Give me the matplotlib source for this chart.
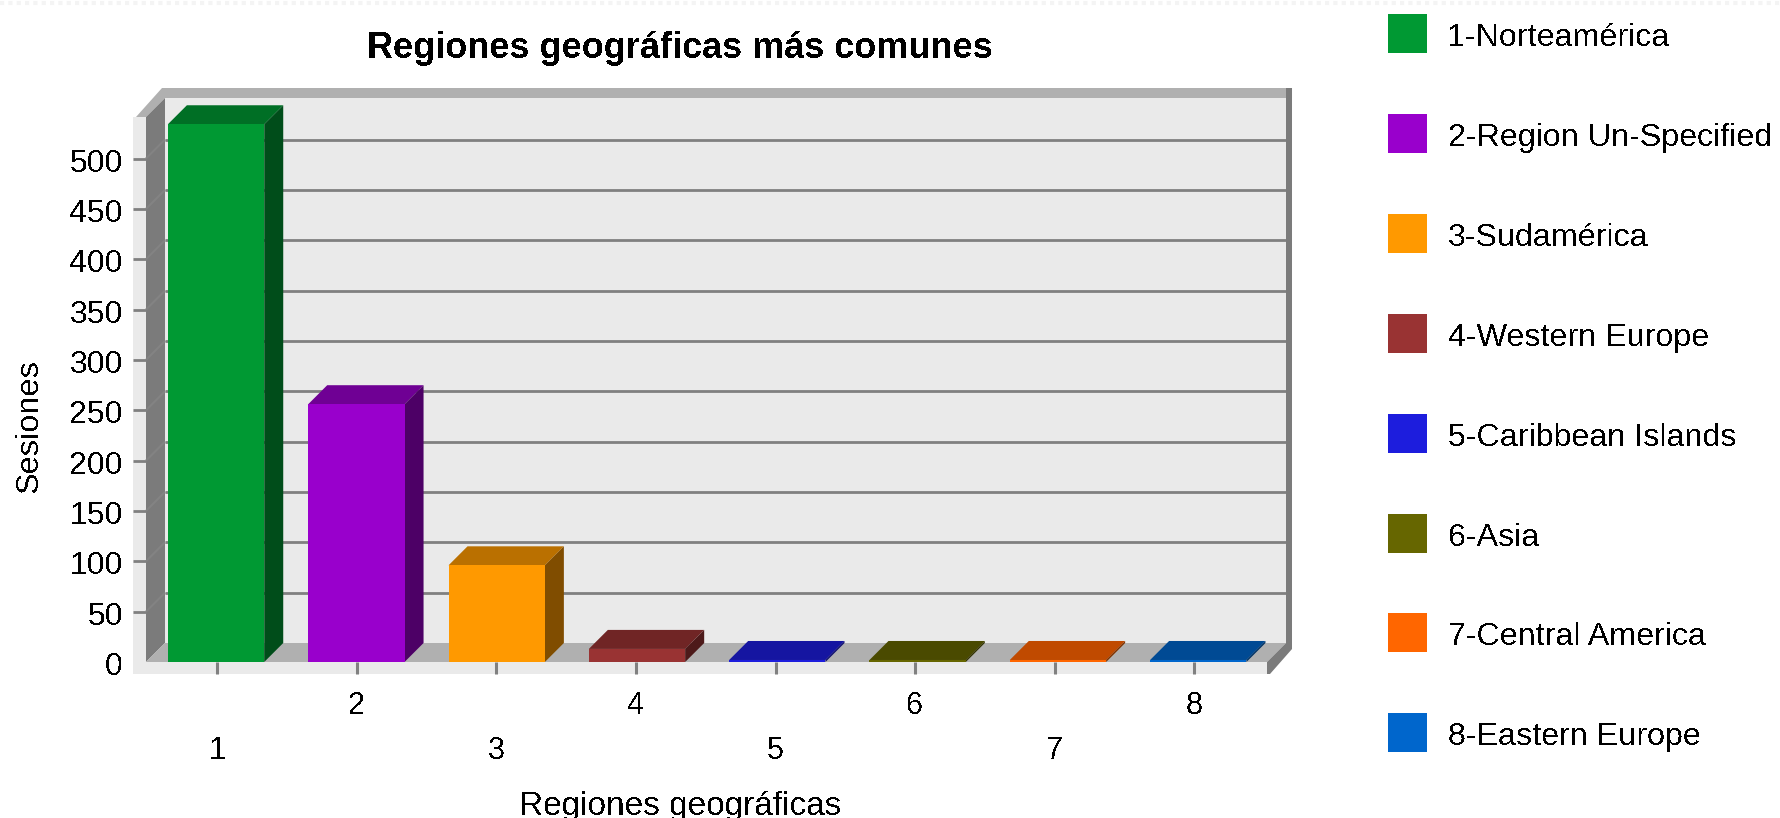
import matplotlib
matplotlib.use("Agg")
import matplotlib.pyplot as plt
from matplotlib.lines import Line2D
from matplotlib.patches import Polygon, Rectangle

# Dati
regioni = [1, 2, 3, 4, 5, 6, 7, 8]
sesiones = [534, 256, 96, 13, 2, 2, 2, 2]
nomi = ["1-Norteamérica", "2-Region Un-Specified", "3-Sudamérica", "4-Western Europe",
        "5-Caribbean Islands", "6-Asia", "7-Central America", "8-Eastern Europe"]
colori = ["#009933", "#9900CC", "#FF9900", "#993333", "#1D1DDD", "#666600", "#FF6600", "#0066CC"]
colori_top = ["#006F25", "#6F0094", "#BA7000", "#702525", "#1515A1", "#4A4A00", "#C04A00", "#004A94"]
colori_lato = ["#004D1A", "#4D0066", "#804D00", "#4D1A1A", "#0F0F70", "#333300", "#803300", "#003366"]
y_ticks = list(range(0, 501, 50))

W, H = 1780, 818
plt.rcParams["font.family"] = ["Liberation Sans", "DejaVu Sans"]
plt.rcParams["text.antialiased"] = False

fig = plt.figure(figsize=(W / 100, H / 100), dpi=100)
# assi: piano frontale del grafico (pixel 146-1267, 117-662)
ax = fig.add_axes([146 / W, 1 - 662 / H, (1267 - 146) / W, (662 - 117) / H])
px_x = 139.6   # pixel per regione
px_y = 1.007   # pixel per sessione
x_min, x_max = 0.491, 8.52
y_max = (662 - 117) / px_y
ax.set_xlim(x_min, x_max)
ax.set_ylim(0, y_max)
ax.patch.set_visible(False)
ax.set_axisbelow(False)
for s in ax.spines.values():
    s.set_visible(False)

# profondita' 3d in unita' dati
dx = 19 / px_x
dy = 19 / px_y
bordo_x = 6 / px_x
bordo_y = 10 / px_y
larg = 0.69


def poly(pts, col, z):
    ax.add_patch(Polygon(pts, closed=True, facecolor=col, edgecolor="none", zorder=z, clip_on=False))


GRIGIO_CHIARO = "#EAEAEA"
GRIGIO_PAV = "#B0B0B0"
GRIGIO_SCURO = "#7B7B7B"
GRIGLIA = "#808080"

y_top = y_max + dy
x_dx = x_max + dx
# parete di fondo
poly([(x_min + dx, dy), (x_dx, dy), (x_dx, y_top), (x_min + dx, y_top)], GRIGIO_CHIARO, 1)
# bordo superiore
poly([(x_min - 10 / px_x, y_max), (x_min + 16 / px_x, y_top + bordo_y), (x_dx + bordo_x, y_top + bordo_y),
      (x_dx + bordo_x, y_top), (x_min + dx, y_top), (x_min, y_max)], GRIGIO_PAV, 2)
# parete sinistra
poly([(x_min, 0), (x_min + dx, dy), (x_min + dx, y_top), (x_min, y_max)], GRIGIO_SCURO, 2)
# parete destra e spigolo in basso
poly([(x_dx, y_top + bordo_y), (x_dx + bordo_x, y_top + bordo_y), (x_dx + bordo_x, 13 / px_y),
      (x_max + 3 / px_x, -12 / px_y), (x_max, -12 / px_y), (x_max, 0), (x_dx, dy)], GRIGIO_SCURO, 3)
# pavimento
poly([(x_min, 0), (x_max, 0), (x_dx, dy), (x_min + dx, dy)], GRIGIO_PAV, 2)

# griglia sulla parete e tacche
for v in y_ticks[1:]:
    ax.plot([x_min + dx, x_dx], [v + dy, v + dy], color=GRIGLIA, lw=2, zorder=1.5,
            solid_capstyle="butt", clip_on=False)
    ax.plot([x_min, x_min + dx], [v, v + dy], color="#838383", lw=1.5, zorder=2.5,
            solid_capstyle="butt", clip_on=False)

# striscia chiara di sinistra e sotto
xl = x_min - 13 / px_x
yb = -12 / px_y
ax.add_patch(Rectangle((xl, yb), x_min - xl, y_max - yb, facecolor=GRIGIO_CHIARO, edgecolor="none", clip_on=False, zorder=2))
ax.add_patch(Rectangle((xl, yb), x_max - xl, -yb, facecolor=GRIGIO_CHIARO, edgecolor="none", clip_on=False, zorder=2))
for v in y_ticks[1:]:
    ax.plot([xl, x_min], [v, v], color=GRIGLIA, lw=2, zorder=2.5, solid_capstyle="butt", clip_on=False)

# barre 3d
for i, (r, v) in enumerate(zip(regioni, sesiones)):
    c = r * 1.005 - 0.0122  # le barre si allargano appena rispetto alle tacche
    a, b = c - larg / 2, c + larg / 2
    ax.bar(c, v, width=larg, color=colori[i], linewidth=0, zorder=5)
    poly([(a, v), (b, v), (b + dx, v + dy), (a + dx, v + dy)], colori_top[i], 4)
    poly([(b, 0), (b + dx, dy), (b + dx, v + dy), (b, v)], colori_lato[i], 4)

# etichette degli assi su due righe alternate
ax.set_xticks(regioni)
ax.set_xticklabels([])
ax.tick_params(axis="x", length=8.6, width=2.2, color=GRIGLIA, direction="out")
ax.tick_params(axis="y", length=0, labelleft=False)
for r in regioni:
    py = 706 if r % 2 == 0 else 751
    fig.text((217 + px_x * (r - 1)) / W, 1 - py / H, str(r), fontsize=22, ha="center", va="center")
for v in y_ticks:
    ax.annotate(str(v), (x_min, v), xytext=(123, -5), xycoords=("data", "data"),
                textcoords=("figure pixels", "offset pixels"), fontsize=23, ha="right", va="center",
                annotation_clip=False)

fig.text(680 / W, 1 - 49 / H, "Regiones geográficas más comunes", fontsize=26, fontweight="bold", ha="center", va="center")
fig.text(680 / W, 1 - 806 / H, "Regiones geográficas", fontsize=24, ha="center", va="center")
fig.text(30 / W, 1 - 426 / H, "Sesiones", fontsize=23.4, rotation=90, ha="center", va="center")

# legenda manuale
for i, nome in enumerate(nomi):
    y0 = 14 + 99.9 * i
    fig.add_artist(Rectangle((1388 / W, 1 - (y0 + 39) / H), 39 / W, 39 / H, facecolor=colori[i], edgecolor="none",
                             transform=fig.transFigure))
    fig.text(1448 / W, 1 - (y0 + 24) / H, nome, fontsize=23.2, ha="left", va="center")

# fascia puntinata in alto
fig.add_artist(Line2D([0, 1], [1 - 3 / H, 1 - 3 / H], color="#F4F4F4", lw=3, linestyle=(0, (1, 1)),
                      transform=fig.transFigure))

fig.savefig("out.png", dpi=100)
